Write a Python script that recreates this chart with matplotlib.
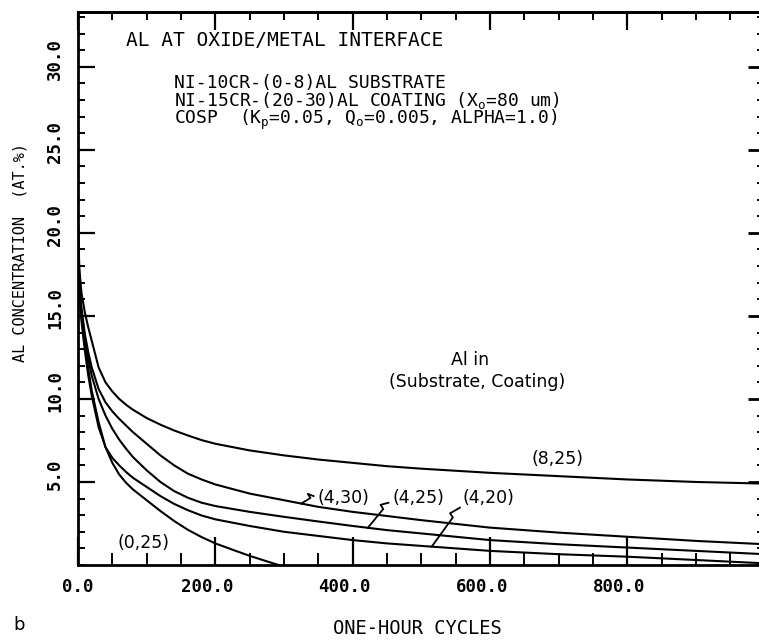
import numpy as np
import matplotlib
matplotlib.use("Agg")
import matplotlib.pyplot as plt
from matplotlib.ticker import MultipleLocator
from matplotlib.transforms import ScaledTranslation

plt.rcParams['mathtext.fontset'] = 'custom'
plt.rcParams['mathtext.rm'] = 'DejaVu Sans Mono'
plt.rcParams['mathtext.it'] = 'DejaVu Sans Mono'

# ---- data ----
cycles = [0, 2, 5, 10, 15, 20, 30, 40, 50, 60, 70, 80, 100, 120, 140, 160, 180, 200,
          250, 300, 350, 400, 450, 500, 600, 700, 800, 900, 1000]
al_8_25 = [20.5, 17.8, 16.4, 15.2, 14.3, 13.5, 11.9, 11.0, 10.45, 10.0, 9.65, 9.35, 8.85,
           8.45, 8.1, 7.8, 7.52, 7.3, 6.9, 6.6, 6.35, 6.15, 5.95, 5.8, 5.55, 5.35, 5.15, 5.0, 4.9]
al_4_30 = [20.5, 17.2, 15.5, 13.9, 12.8, 11.9, 10.6, 9.8, 9.25, 8.8, 8.4, 8.0, 7.3,
           6.6, 6.0, 5.5, 5.15, 4.85, 4.3, 3.9, 3.5, 3.2, 2.95, 2.7, 2.25, 1.95, 1.7, 1.45, 1.25]
al_4_25 = [20.5, 16.8, 15.2, 13.6, 12.4, 11.4, 10.0, 9.0, 8.2, 7.55, 7.0, 6.5, 5.7,
           5.0, 4.45, 4.05, 3.75, 3.55, 3.2, 2.9, 2.62, 2.35, 2.1, 1.9, 1.5, 1.25, 1.05, 0.85, 0.65]
al_4_20 = [20.5, 16.3, 14.7, 12.9, 11.4, 10.2, 8.3, 7.1, 6.45, 6.0, 5.6, 5.25, 4.7,
           4.15, 3.68, 3.3, 2.98, 2.75, 2.35, 2.0, 1.75, 1.5, 1.3, 1.15, 0.85, 0.65, 0.5, 0.3, 0.1]
cycles_0_25 = [0, 2, 5, 10, 15, 20, 30, 40, 50, 60, 70, 80, 100, 120, 140, 160, 180, 200,
               225, 250, 275, 292]
al_0_25 = [20.5, 16.6, 15.0, 13.3, 11.8, 10.5, 8.6, 7.1, 6.15, 5.45, 4.95, 4.55, 3.9,
           3.25, 2.65, 2.12, 1.68, 1.3, 0.92, 0.55, 0.22, 0.0]

x_major = [0, 200, 400, 600, 800]
x_labels = ["0.0", "200.0", "400.0", "600.0", "800.0"]
y_major = [5, 10, 15, 20, 25, 30]
y_labels = ["5.0", "10.0", "15.0", "20.0", "25.0", "30.0"]

W, H = 759, 641
fig = plt.figure(figsize=(W / 100, H / 100), dpi=100)
L, R, B, T = 78, 760, 565, 12
ax = fig.add_axes([L / W, (H - B) / H, (R - L) / W, (B - T) / H])
ax.set_xlim(0, 993)
ax.set_ylim(0, 33.3)

lw = 1.5
ax.plot(cycles, al_8_25, color='black', lw=lw)
ax.plot(cycles, al_4_30, color='black', lw=lw)
ax.plot(cycles, al_4_25, color='black', lw=lw)
ax.plot(cycles, al_4_20, color='black', lw=lw)
ax.plot(cycles_0_25, al_0_25, color='black', lw=lw)

for s in ['left', 'bottom', 'top']:
    ax.spines[s].set_linewidth(2)
ax.spines['right'].set_visible(False)

mono = 'DejaVu Sans Mono'
ax.set_xticks(x_major, x_labels)
ax.set_yticks(y_major, y_labels)
ax.xaxis.set_minor_locator(MultipleLocator(50))
ax.yaxis.set_minor_locator(MultipleLocator(1))
ax.tick_params(axis='x', which='major', direction='in', length=20, width=1.6, pad=9, top=False)
ax.tick_params(axis='x', which='minor', direction='in', length=8.5, width=1.4, top=False)
ax.tick_params(axis='y', which='major', direction='in', length=12, width=1.6, pad=10, right=False)
ax.tick_params(axis='y', which='minor', direction='in', length=5, width=1.4, right=False)
for i, lab in enumerate(ax.get_xticklabels()):
    lab.set_fontfamily(mono)
    lab.set_fontweight('bold')
    lab.set_fontsize(12.5)
    dx = 0 if i == 0 else -8
    lab.set_transform(lab.get_transform() + ScaledTranslation(dx / 100, 0, fig.dpi_scale_trans))
for lab in ax.get_yticklabels():
    lab.set_fontfamily(mono)
    lab.set_fontweight('bold')
    lab.set_fontsize(12.5)
    lab.set_rotation(90)
    lab.set_va('center')
    lab.set_transform(lab.get_transform() + ScaledTranslation(0, 8 / 100, fig.dpi_scale_trans))

secx = ax.secondary_xaxis('top')
secx.set_xticks([0, 200, 400, 600, 800, 1000])
secx.xaxis.set_minor_locator(MultipleLocator(50))
secx.tick_params(which='major', direction='in', length=13, width=1.6, labeltop=False)
secx.tick_params(which='minor', direction='in', length=6, width=1.4)
secx.spines['top'].set_linewidth(2)

secy = ax.secondary_yaxis('right')
secy.set_yticks(y_major)
secy.yaxis.set_minor_locator(MultipleLocator(1))
secy.tick_params(which='major', direction='in', length=9, width=2, labelright=False)
secy.tick_params(which='minor', direction='in', length=2, width=1.4)
secy.spines['right'].set_visible(False)

# header text
ax.text(0.0707, 0.9476, "AL AT OXIDE/METAL INTERFACE", transform=ax.transAxes,
        fontfamily=mono, fontsize=14, va='center', ha='left')
hdr = "\n".join(["NI-10CR-(0-8)AL SUBSTRATE",
                 r"NI-15CR-(20-30)AL COATING (X$_{\mathrm{o}}$=80 um)",
                 r"COSP  (K$_{\mathrm{p}}$=0.05, Q$_{\mathrm{o}}$=0.005, ALPHA=1.0)"])
ax.text(0.1414, 0.887, hdr, transform=ax.transAxes, fontfamily=mono,
        fontsize=13, va='top', ha='left', linespacing=0.82)

# legend-like text
ax.text(571, 12.35, "Al in", fontsize=12.5, ha='center', va='center')
ax.text(581, 11.0, "(Substrate, Coating)", fontsize=12.5, ha='center', va='center')

# curve labels
ax.text(698, 6.4, "(8,25)", fontsize=12.5, ha='center', va='center')
ax.text(96, 1.3, "(0,25)", fontsize=12.5, ha='center', va='center')
ax.text(387, 4.05, "(4,30)", fontsize=12.5, ha='center', va='center')
ax.text(495, 4.05, "(4,25)", fontsize=12.5, ha='center', va='center')
ax.text(598, 4.05, "(4,20)", fontsize=12.5, ha='center', va='center')

def leader(x0, ys, x1, y1):
    y0 = np.interp(x0, cycles, ys)
    xm = x0 + 0.75 * (x1 - x0)
    ym = y0 + 0.75 * (y1 - y0)
    xs = [x0, xm, xm - 4, x1]
    yv = [y0, ym, ym + 0.25, y1]
    ax.plot(xs, yv, color='black', lw=1.3)

leader(325, al_4_30, 343, 4.15)
leader(422, al_4_25, 452, 3.75)
leader(515, al_4_20, 556, 3.45)

fig.text(20 / W, 1 - 253 / H, "AL CONCENTRATION  (AT.%)", rotation=90, fontfamily=mono,
         fontsize=11, ha='center', va='center')
fig.text(417 / W, 1 - 628 / H, "ONE-HOUR CYCLES", fontfamily=mono, fontsize=13.5,
         ha='center', va='center')
fig.text(19 / W, 1 - 625 / H, "b", fontsize=13, ha='center', va='center')

fig.savefig("out.png", dpi=100)
